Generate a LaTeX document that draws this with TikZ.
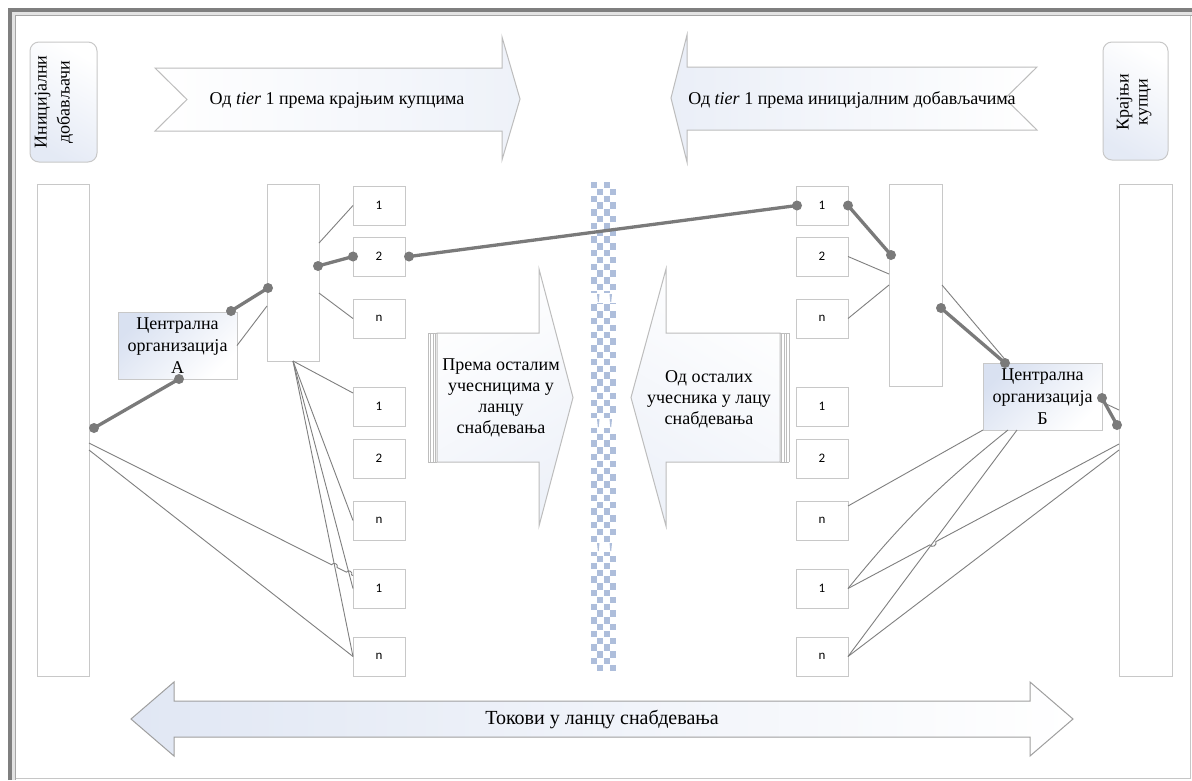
\documentclass[tikz,border=0pt]{standalone}
\usepackage{fontspec}
\setmainfont{Liberation Serif}
\newfontfamily\numfont{Carlito}
\usetikzlibrary{calc}

\definecolor{framedark}{HTML}{7F7F7F}
\definecolor{boxline}{HTML}{C8C8C8}
\definecolor{arrline}{HTML}{BDBDBD}
\definecolor{connline}{HTML}{7F7F7F}
\definecolor{linkgray}{HTML}{7A7A7A}
\definecolor{chk}{HTML}{AEBEDB}
\definecolor{tint}{HTML}{D9E1F1}

% thick link with round dots at both ends
\newcommand\dotlink[2]{%
  \draw[link] #1 -- #2;
  \fill[linkgray] #1 circle[radius=5pt];
  \fill[linkgray] #2 circle[radius=5pt];}

\begin{document}
\begin{tikzpicture}[x=1pt,y=-1pt,
  plainbox/.style={draw=boxline, line width=1pt, fill=white, inner sep=0pt, outer sep=0pt, anchor=north west},
  numbox/.style={plainbox, minimum width=52pt, minimum height=39pt, font=\numfont\fontsize{13}{15}\selectfont},
  tallbox/.style={plainbox, minimum width=52pt, minimum height=492pt},
  orgbox/.style={plainbox, minimum width=119pt, minimum height=67pt, align=center,
    top color=tint, bottom color=white, shading angle=45,
    font=\fontsize{18}{22}\selectfont},
  roundbox/.style={draw=boxline, line width=1pt, rounded corners=9pt, inner sep=0pt,
    top color=white, bottom color=tint!70, shading angle=-30, anchor=north west},
  arrowshape/.style={draw=arrline, line width=1pt},
  conn/.style={draw=connline, line width=0.9pt},
  link/.style={draw=linkgray, line width=3.3pt},
  label/.style={font=\fontsize{18}{21}\selectfont, align=center, inner sep=0pt}]

\useasboundingbox (0,0) rectangle (1192,780);
\fill[white] (0,0) rectangle (1192,780);

% page frame
\fill[gray!22] (12,12) rectangle (15.5,780);
\fill[gray!22] (12,12) rectangle (1192,15.5);
\draw[framedark, line width=4.5pt] (10,780) -- (10,9.75) -- (1192,9.75);
\draw[gray!70, line width=0.7pt] (15.5,780) -- (15.5,15.5) -- (1192,15.5);
\draw[gray!45, line width=1pt] (15.5,778.5) -- (1190.5,778.5) -- (1190.5,15.5);

% end-point boxes of the chain
\path[roundbox] (30,42) rectangle (97,162);
\node[rotate=90, align=center, inner sep=0pt, font=\fontsize{18}{23}\selectfont] (ini) at (54,102) {Иницијални\\добављачи};
\path[roundbox] (1103,42) rectangle (1168,160);
\node[rotate=90, align=center, inner sep=0pt, font=\fontsize{18}{19}\selectfont] (kup) at (1134,102) {Крајњи\\купци};

% top arrows
\path[arrowshape, left color=white, right color=tint!45]
  (155,68) -- (502,68) -- (502,37) -- (520,99) -- (502,160) -- (502,131) -- (155,131) -- (187,99.5) -- cycle;
\node[label] (topl) at (337,100) {Од \textit{tier} 1 према крајњим купцима};
\path[arrowshape, left color=tint!55, right color=white]
  (1037,67) -- (687,67) -- (687,35) -- (671,98) -- (687,162) -- (687,130) -- (1037,130) -- (1005,98.5) -- cycle;
\node[label] (topr) at (852,100) {Од \textit{tier} 1 према иницијалним добављачима};

% checkered divider
\foreach \r in {0,...,71}{
  \foreach \c in {0,1,2,3}{
    \pgfmathtruncatemacro\odd{mod(\r+\c,2)}
    \ifnum\odd=0
      \fill[chk] ({591+\c*6.4},{182+\r*6.8}) rectangle ++(5.9,6.3);
    \fi
  }
}
\foreach \g in {298,423,547}{
  \fill[white] (589,\g-5) rectangle (619,\g+5);
  \fill[chk] (597,\g-4) -- (599.5,\g-4) -- (598.7,\g+4) -- (597.8,\g+4) -- cycle;
  \fill[chk] (609.5,\g-4) -- (612,\g-4) -- (611.2,\g+4) -- (610.3,\g+4) -- cycle;
}

% middle arrows
\path[arrowshape, top color=white, bottom color=tint!45, shading angle=30]
  (437,333) -- (539,333) -- (539,269) -- (573,397.5) -- (539,526) -- (539,462) -- (437,462) -- cycle;
\foreach \sx in {428,430.5,433,435.5}{\draw[arrline, line width=0.8pt] (\sx,333) -- (\sx,462);}
\draw[arrline, line width=0.8pt] (428,333) -- (437,333) (428,462) -- (437,462);
\node[label] (midl) at (501,398) {Према осталим\\учесницима у\\ланцу\\снабдевања};

\path[arrowshape, top color=white, bottom color=tint!45, shading angle=-30]
  (780,333) -- (666,333) -- (666,269) -- (631,397.5) -- (666,526) -- (666,462) -- (780,462) -- cycle;
\foreach \sx in {781.5,784,786.5,789}{\draw[arrline, line width=0.8pt] (\sx,333) -- (\sx,462);}
\draw[arrline, line width=0.8pt] (780,333) -- (789,333) (780,462) -- (789,462);
\node[label] (midr) at (709,399) {Од осталих\\учесника у лацу\\снабдевања};

% bottom double arrow
\path[draw=gray!75, line width=1pt, left color=tint!80, right color=white]
  (131,719) -- (174,682) -- (174,701) -- (1030,701) -- (1030,682) -- (1073,719)
  -- (1030,756) -- (1030,737) -- (174,737) -- (174,756) -- cycle;
\node[font=\fontsize{20}{24}\selectfont, inner sep=0pt] (flows) at (602,719) {Токови у ланцу снабдевања};

% suppliers and customers columns
\node[tallbox] (supL) at (37,184) {};
\node[tallbox, minimum width=53pt] (supR) at (1119,184) {};

% tier 1 of both organisations
\node[plainbox, minimum width=52pt, minimum height=177pt] (tA) at (267,184) {};
\node[plainbox, minimum width=53pt, minimum height=202pt] (tB) at (889,184) {};

% central organisations
\node[orgbox] (cA) at (118,312) {Централна\\организација\\А};
\node[orgbox] (cB) at (983,363) {Централна\\организација\\Б};

% members of the chain
\foreach \nm/\yy/\tx in {1/186/1, 2/237/2, 3/299/n, 4/387/1, 5/439/2, 6/501/n, 7/569/1, 8/637/n}{
  \node[numbox] (L\nm) at (353,\yy) {\tx};
  \node[numbox] (R\nm) at (796,\yy) {\tx};
}

% thin links, left side
\draw[conn] (cA.east) -- ($(tA.north west)+(0,122)$);
\draw[conn] ($(tA.north east)+(0,59)$) -- (L1.west);
\draw[conn] ($(tA.north east)+(0,109)$) -- (L3.west);
\draw[conn] (tA.south) -- ($(L4.north west)+(0,6)$);
\draw[conn] (tA.south) -- (L6.west);
\draw[conn] (tA.south) -- (L7.west);
\draw[conn] (tA.south) -- (L8.west);
\coordinate (hS) at ($(supL.north east)+(0,259)$);
\coordinate (hE) at ($(L7.north west)+(0,6.5)$);
\draw[conn] (hS) -- ($(hS)!0.919!(hE)$) to[bend left=90, looseness=1.5] ($(hS)!0.94!(hE)$)
  -- ($(hS)!0.975!(hE)$) to[bend left=90, looseness=1.5] ($(hS)!0.995!(hE)$) -- (hE);
\draw[conn] ($(supL.north east)+(0,266)$) -- (L8.west);

% thin links, right side
\draw[conn] (R2.east) -- ($(tB.north west)+(0,90)$);
\draw[conn] (R3.east) -- ($(tB.north west)+(0,101)$);
\draw[conn] ($(tB.north east)+(0,101)$) -- ($(cB.north west)+(25,0)$);
\draw[conn] ($(cB.north east)+(0,39)$) -- ($(supR.north west)+(0,226)$);
\draw[conn] (cB.south west) -- ($(R6.north east)+(0,5)$);
\draw[conn] ($(cB.south west)+(25,0)$) to[bend right=6] (R7.east);
\draw[conn] ($(cB.south west)+(34,0)$) -- (R8.east);
\coordinate (kS) at ($(supR.north west)+(0,260)$);
\draw[conn] (kS) -- ($(kS)!0.676!(R7.east)$) to[bend left=90, looseness=1.5] ($(kS)!0.698!(R7.east)$) -- (R7.east);
\draw[conn] ($(supR.north west)+(0,266)$) -- (R8.east);

% main path through the chain
\dotlink{($(supL.north east)+(5,244)$)}{($(cA.south west)+(61,0)$)}
\dotlink{($(cA.north east)+(-6,-1)$)}{($(tA.north west)+(1,104)$)}
\dotlink{($(tA.north east)+(-1,82)$)}{(L2.west)}
\dotlink{($(L2.east)+(4,0)$)}{($(R1.west)+(1,0)$)}
\dotlink{(R1.east)}{($(tB.north west)+(2,71)$)}
\dotlink{($(tB.north east)+(-1,124)$)}{($(cB.north west)+(22,0)$)}
\dotlink{($(cB.north east)+(0,35)$)}{($(supR.north west)+(-2,241)$)}

\end{tikzpicture}
\end{document}
